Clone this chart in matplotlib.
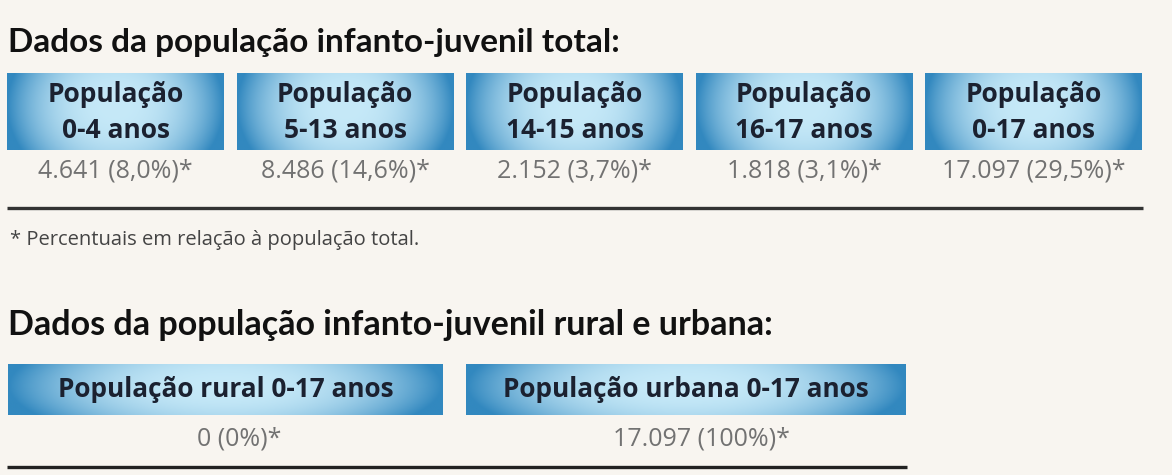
import numpy as np
import matplotlib
matplotlib.use("Agg")
import matplotlib.pyplot as plt
from matplotlib.colors import to_rgb

# ---- data ----
title_total = "Dados da população infanto-juvenil total:"
title_ru = "Dados da população infanto-juvenil rural e urbana:"
footnote = "* Percentuais em relação à população total."

age_groups = ["População\n0-4 anos", "População\n5-13 anos", "População\n14-15 anos",
              "População\n16-17 anos", "População\n0-17 anos"]
age_values = [4641, 8486, 2152, 1818, 17097]
age_pcts = ["8,0", "14,6", "3,7", "3,1", "29,5"]

area_groups = ["População rural 0-17 anos", "População urbana 0-17 anos"]
area_values = [0, 17097]
area_pcts = ["0", "100"]


def fmt_int(v):
    return f"{v:,}".replace(",", ".")


W, H = 1172, 475
BG = "#f8f5f0"
fig = plt.figure(figsize=(W / 100, H / 100), dpi=100)
fig.patch.set_facecolor(BG)
ax = fig.add_axes([0, 0, 1, 1])
ax.set_xlim(0, W)
ax.set_ylim(H, 0)
ax.axis("off")
ax.set_facecolor(BG)

light = np.array(to_rgb("#c6e9f8"))
dark = np.array(to_rgb("#3288bf"))


def gradient_cell(x0, y0, w, h):
    nx, ny = 240, 60
    xs = np.linspace(-1, 1, nx)
    ys = np.linspace(-1, 1, ny)
    X, Y = np.meshgrid(xs, ys)
    d = np.sqrt(X ** 2 + 0.18 * (Y + 0.15) ** 2)
    d = np.clip(d, 0, 1) ** 2.6
    img = light[None, None, :] * (1 - d[..., None]) + dark[None, None, :] * d[..., None]
    ax.imshow(img, extent=(x0, x0 + w, y0 + h, y0), aspect="auto",
              interpolation="bilinear", zorder=1)


TXT = "#1b2130"
VAL = "#727272"
HF = "Open Sans"

# ---- section 1 ----
ax.text(8, 52, title_total, fontsize=24, fontweight="bold", family="Lato",
        color="#111111", va="baseline", ha="left")

left0, step, cw = 7, 229.5, 217
top1, h1 = 73, 77
for i, (lab, v, p) in enumerate(zip(age_groups, age_values, age_pcts)):
    x0 = left0 + i * step
    gradient_cell(x0, top1, cw, h1)
    l1, l2 = lab.split("\n")
    cx = x0 + cw / 2
    ax.text(cx, 102, l1, fontsize=19, fontweight="bold", family=HF,
            color=TXT, ha="center", va="baseline", zorder=3)
    ax.text(cx, 138, l2, fontsize=19, fontweight="bold", family=HF,
            color=TXT, ha="center", va="baseline", zorder=3)
    ax.text(cx, 177, f"{fmt_int(v)} ({p}%)*", fontsize=18, fontweight="normal",
            family=HF, color=VAL, ha="center", va="baseline", zorder=3)

ax.plot([7, 1143], [208, 208], color="#333333", lw=2.4, solid_capstyle="butt")
ax.text(10, 245, footnote, fontsize=14.5, family=HF, color="#444444",
        ha="left", va="baseline")

# ---- section 2 ----
ax.text(8, 335, title_ru, fontsize=24.5, fontweight="bold", family="Lato",
        color="#111111", va="baseline", ha="left")

top2, h2 = 364, 51
lefts2 = [8, 466]
widths2 = [435, 440]
val_x = [239, 701]
for i, (lab, v, p) in enumerate(zip(area_groups, area_values, area_pcts)):
    x0 = lefts2[i]
    gradient_cell(x0, top2, widths2[i], h2)
    cx = x0 + widths2[i] / 2
    ax.text(cx, 397, lab, fontsize=18.8, fontweight="bold", family=HF,
            color=TXT, ha="center", va="baseline", zorder=3)
    ax.text(val_x[i], 446, f"{fmt_int(v)} ({p}%)*", fontsize=18, fontweight="normal",
            family=HF, color=VAL, ha="center", va="baseline", zorder=3)

ax.plot([7, 907], [467, 467], color="#222222", lw=2.4, solid_capstyle="butt")

fig.savefig("out.png", dpi=100, facecolor=fig.get_facecolor())
